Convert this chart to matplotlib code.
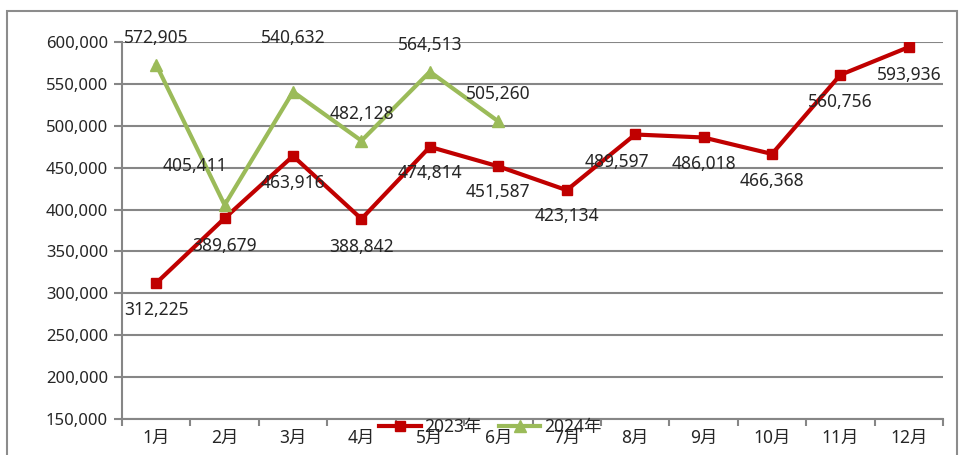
import matplotlib.pyplot as plt
from matplotlib.patches import Rectangle
from matplotlib.ticker import FuncFormatter, MultipleLocator
import numpy as np

plt.rcParams['font.family'] = ['Noto Sans', 'Noto Sans CJK SC', 'DejaVu Sans']

months = ['1月', '2月', '3月', '4月', '5月', '6月', '7月', '8月', '9月', '10月', '11月', '12月']
sales_2023 = [312225, 389679, 463916, 388842, 474814, 451587, 423134, 489597, 486018, 466368, 560756, 593936]
sales_2024 = [572905, 405411, 540632, 482128, 564513, 505260]

# label offsets in pixels (dx, dy)
off_2023 = [(0, -27), (0, -28), (0, -27), (0, -28), (0, -26), (0, -26),
            (0, -26), (-18, -28), (0, -27), (0, -27), (0, -27), (0, -28)]
off_2024 = [(0, 27), (-30, 39), (0, 54), (0, 27), (0, 27), (0, 27)]

red = '#C00000'
green = '#9BBB59'
txt = '#262626'

fig = plt.figure(figsize=(9.61, 4.55), dpi=100)
ax = fig.add_axes([122 / 961, 1 - 419 / 455, 821 / 961, 377 / 455])

# outer chart frame
fig.patches.append(Rectangle((7 / 961, -0.05), 950 / 961, 1.05 - 11 / 455,
                             transform=fig.transFigure, fill=False,
                             edgecolor='#8c8c8c', linewidth=1.5))

x = np.arange(len(months))
ax.plot(x, sales_2023, color=red, lw=3, marker='s', ms=7, label='2023年', zorder=3)
ax.plot(x[:len(sales_2024)], sales_2024, color=green, lw=3, marker='^', ms=8.5,
        label='2024年', zorder=3)

for xi, v, (dx, dy) in zip(x, sales_2023, off_2023):
    ax.annotate(f'{v:,}', (xi, v), xytext=(dx, dy), textcoords='offset pixels',
                ha='center', va='center', fontsize=12.5, color=txt, zorder=4)
for xi, v, (dx, dy) in zip(x, sales_2024, off_2024):
    ax.annotate(f'{v:,}', (xi, v), xytext=(dx, dy), textcoords='offset pixels',
                ha='center', va='center', fontsize=12.5, color=txt, zorder=4)

ax.set_xlim(-0.5, len(months) - 0.5)
ax.set_ylim(150000, 600000)
ax.yaxis.set_major_locator(MultipleLocator(50000))
ax.yaxis.set_major_formatter(FuncFormatter(lambda v, p: f'{int(v):,}'))
ax.yaxis.grid(True, color='#868686', lw=1.5)
ax.set_axisbelow(True)

ax.set_xticks(x)
ax.set_xticklabels(months)
ax.set_xticks(np.arange(-0.5, len(months)), minor=True)
ax.tick_params(axis='x', which='major', length=0, pad=7, labelsize=12.5, colors=txt)
ax.tick_params(axis='x', which='minor', length=5, width=1.5, color='#868686')
ax.tick_params(axis='y', length=6, width=1.5, color='#868686', labelsize=12,
               labelcolor=txt, pad=4)

for s in ['top', 'right']:
    ax.spines[s].set_visible(False)
for s in ['left', 'bottom']:
    ax.spines[s].set_color('#868686')
    ax.spines[s].set_linewidth(1.5)

fig.legend(loc='center', bbox_to_anchor=(0.51, 0.062), ncol=2, frameon=False,
           fontsize=12.5, handlelength=2.4, columnspacing=1.0, handletextpad=0.2,
           labelcolor=txt)

fig.savefig('out.png', dpi=100)
